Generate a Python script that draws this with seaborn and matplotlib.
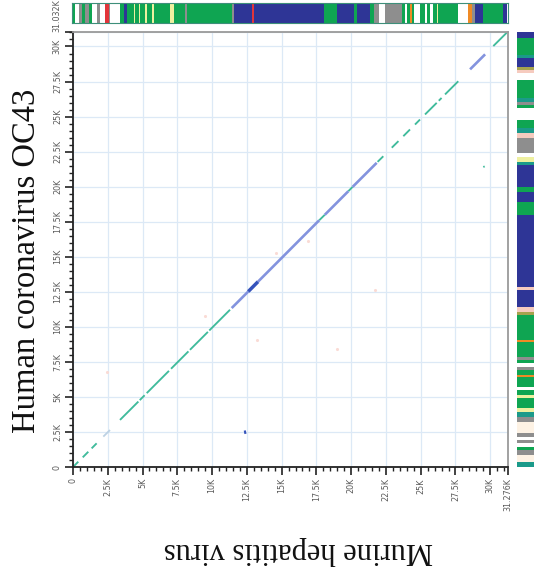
import numpy as np
import pandas as pd
import matplotlib
matplotlib.use("Agg")
import matplotlib.pyplot as plt
import seaborn as sns

# ---------------- data ----------------
mhv_length = 31276
oc43_length = 31032

x_ticks = [0, 2500, 5000, 7500, 10000, 12500, 15000, 17500, 20000, 22500, 25000, 27500, 30000, 31276]
x_tick_labels = ["0", "2.5K", "5K", "7.5K", "10K", "12.5K", "15K", "17.5K", "20K", "22.5K", "25K", "27.5K", "30K", "31.276K"]
y_ticks = [0, 2500, 5000, 7500, 10000, 12500, 15000, 17500, 20000, 22500, 25000, 27500, 30000, 31032]
y_tick_labels = ["0", "2.5K", "5K", "7.5K", "10K", "12.5K", "15K", "17.5K", "20K", "22.5K", "25K", "27.5K", "30K", "31.032K"]

# similarity track along the MHV genome (segment bounds + class codes)
mhv_bounds = [0, 239, 478, 717, 956, 1195, 1434, 1793, 2032, 2390, 2629, 2749, 3466, 3705, 3944,
              4422, 4541, 4780, 4900, 5258, 5378, 5736, 5856, 7051, 7290, 8126, 8246, 11472, 11592,
              12906, 13026, 18045, 19001, 20196, 20435, 21391, 21630, 21988, 22466, 23661, 23900,
              24020, 24259, 24378, 24498, 24976, 25334, 25454, 25693, 25932, 26171, 26290, 27724,
              28441, 28680, 28919, 29517, 30951, 31190, 31276]
mhv_class = ["G", "W", "Y", "G", "Y", "G", "W", "Y", "W", "R", "Y", "W", "G", "B", "G", "L", "G", "L",
             "G", "L", "G", "L", "G", "L", "G", "Y", "G", "Y", "B", "R", "B", "G", "B", "G", "B", "G",
             "Y", "W", "Y", "G", "W", "G", "O", "G", "W", "G", "W", "G", "W", "G", "L", "G", "W", "O",
             "Y", "B", "G", "B", "W"]

# similarity track along the OC43 genome
oc43_bounds = [0, 378, 856, 1213, 1448, 1691, 1926, 2162, 2404, 3232, 3588, 3945, 4188, 4901, 5136,
               5493, 5729, 6442, 6563, 6920, 7155, 7398, 7633, 7869, 8939, 9060, 10844, 11079, 11436,
               12627, 12863, 17978, 18927, 19640, 19997, 21545, 21780, 22137, 22379, 23449, 23806,
               24163, 24755, 25590, 25825, 26061, 26303, 27609, 28087, 28322, 28557, 29157, 29392,
               30583, 31032]
oc43_class = ["T", "C", "Y", "G", "W", "Y", "W", "Y", "C", "Y", "T", "L", "G", "L", "G", "W", "G", "O",
              "G", "Y", "W", "G", "Y", "G", "O", "G", "V", "P", "B", "P", "B", "G", "B", "G", "B", "T",
              "L", "W", "Y", "P", "T", "G", "W", "G", "Y", "T", "G", "W", "P", "V", "B", "T", "G", "B"]

# aligned fragments: MHV start/end, OC43 start/end, identity class
hit_x0 = [0, 700, 1340, 2180, 3380, 4800, 5300, 7050, 8410, 9800, 11410, 12600, 13300, 17700, 18100,
          19800, 20100, 21900, 22920, 23750, 24590, 25310, 26300, 26750, 28550, 30220, 12300, 29500]
hit_x1 = [380, 1100, 1700, 2660, 4700, 5150, 6900, 8300, 9700, 11290, 12600, 13300, 17700, 18100, 19800,
          20100, 21835, 22310, 23400, 24230, 24950, 26150, 26500, 27700, 29630, 31180, 12450, 29600]
hit_y0 = [0, 690, 1330, 2170, 3360, 4770, 5270, 7010, 8360, 9740, 11340, 12520, 13220, 17600, 17990,
          19680, 19980, 21770, 22780, 23600, 24430, 25150, 26130, 26580, 28370, 30030, 2470, 21400]
hit_y1 = [380, 1090, 1690, 2640, 4670, 5120, 6860, 8250, 9640, 11220, 12520, 13220, 17600, 17990, 19680,
          19980, 21700, 22170, 23250, 24080, 24790, 25980, 26330, 27520, 29440, 30980, 2500, 21450]
hit_class = ["mid", "mid", "mid", "low", "mid", "mid", "mid", "mid", "mid", "mid", "high", "peak", "high",
             "mid", "high", "mid", "high", "mid", "mid", "mid", "mid", "mid", "mid", "mid", "high", "mid",
             "peak", "mid"]

# weak scattered hits
noise_x = [2445, 13230, 18980, 21713, 14600, 16900, 9500]
noise_y = [6777, 9060, 8418, 12627, 15300, 16100, 10800]

# ---------------- styling ----------------
track_colors = {"G": "#0fa552", "B": "#2e3596", "W": "#ffffff", "C": "#fdf2e4", "Y": "#8e8e8e",
                "T": "#1b9a8a", "O": "#ef8a25", "R": "#e2353a", "L": "#eef0a0", "V": "#a6a24e",
                "P": "#f6cbbf"}
hit_colors = {"mid": "#40bb9c", "high": "#8393de", "peak": "#3553bb", "low": "#bcd1e3"}

sns.set_theme(style="white")
plt.rcParams["font.family"] = ["DejaVu Sans"]

fig = plt.figure(figsize=(5.34, 5.76), dpi=100)
ax = fig.add_axes([0.1367, 0.1892, 0.8146, 0.7552])
ax_top = fig.add_axes([0.1348, 0.9601, 0.8165, 0.0347])
ax_right = fig.add_axes([0.968, 0.1892, 0.040, 0.7552])

# ---------------- dot plot ----------------
rows = []
for i, (a, b, c, d, k) in enumerate(zip(hit_x0, hit_x1, hit_y0, hit_y1, hit_class)):
    rows.append({"seg": i, "mhv": a, "oc43": c, "kind": k})
    rows.append({"seg": i, "mhv": b, "oc43": d, "kind": k})
hits = pd.DataFrame(rows)

noise = pd.DataFrame({"mhv": noise_x, "oc43": noise_y})
sns.scatterplot(data=noise, x="mhv", y="oc43", ax=ax, color="#fadbd5", s=5, linewidth=0, legend=False)

for kind, lw in [("low", 1.3), ("mid", 1.35), ("high", 1.9), ("peak", 2.5)]:
    sub = hits[hits["kind"] == kind]
    sns.lineplot(data=sub, x="mhv", y="oc43", units="seg", estimator=None, sort=False,
                 color=hit_colors[kind], linewidth=lw, ax=ax, legend=False,
                 solid_capstyle="butt")

ax.set_xlim(0, mhv_length)
ax.set_ylim(0, oc43_length)
ax.set_xticks(x_ticks)
ax.set_xticklabels(x_tick_labels, rotation=90, fontsize=5.8, color="#5a5a5a")
ax.set_yticks(y_ticks)
ylabs = ax.set_yticklabels(y_tick_labels, rotation=90, fontsize=5.8, color="#5a5a5a", va="center")
ylabs[-1].set_va("bottom")
ax.set_xticks(np.arange(0, mhv_length, 500), minor=True)
ax.set_yticks(np.arange(0, oc43_length, 500), minor=True)
ax.tick_params(axis="both", which="major", direction="out", length=6, width=1.2, color="#222222", pad=2,
               bottom=True, left=True)
ax.tick_params(axis="both", which="minor", direction="out", length=3, width=1.0, color="#222222",
               bottom=True, left=True)
ax.grid(True, which="major", color="#dce9f6", linewidth=0.9)
ax.set_axisbelow(True)
ax.set_xlabel("")
ax.set_ylabel("")
for side in ["left", "bottom"]:
    ax.spines[side].set_color("#222222")
    ax.spines[side].set_linewidth(1.3)
for side in ["top", "right"]:
    ax.spines[side].set_color("#9a9a9a")
    ax.spines[side].set_linewidth(1.3)

# ---------------- similarity tracks ----------------
starts = np.array(mhv_bounds[:-1])
widths = np.diff(mhv_bounds)
ax_top.bar(starts, 1, width=widths, align="edge", color=[track_colors[c] for c in mhv_class], linewidth=0)
ax_top.set_xlim(0, mhv_length)
ax_top.set_ylim(0, 1)
ax_top.set_xticks([])
ax_top.set_yticks([])
for s in ax_top.spines.values():
    s.set_color("#3d8f7a")
    s.set_linewidth(0.8)

starts = np.array(oc43_bounds[:-1])
heights = np.diff(oc43_bounds)
ax_right.barh(starts, 1, height=heights, align="edge", color=[track_colors[c] for c in oc43_class], linewidth=0)
ax_right.set_ylim(0, oc43_length)
ax_right.set_xlim(0, 1)
ax_right.set_xticks([])
ax_right.set_yticks([])
for s in ax_right.spines.values():
    s.set_visible(False)

# ---------------- axis titles ----------------
fig.text(0.558, 1 - 551 / 576, "Murine hepatitis virus", rotation=180, ha="center", va="center",
         fontsize=22, family="Liberation Serif", color="#111111")
fig.text(27 / 534, 1 - 261 / 576, "Human coronavirus OC43", rotation=90, ha="center", va="center",
         fontsize=23.5, family="Liberation Serif", color="#111111")

fig.savefig("out.png", dpi=100)
